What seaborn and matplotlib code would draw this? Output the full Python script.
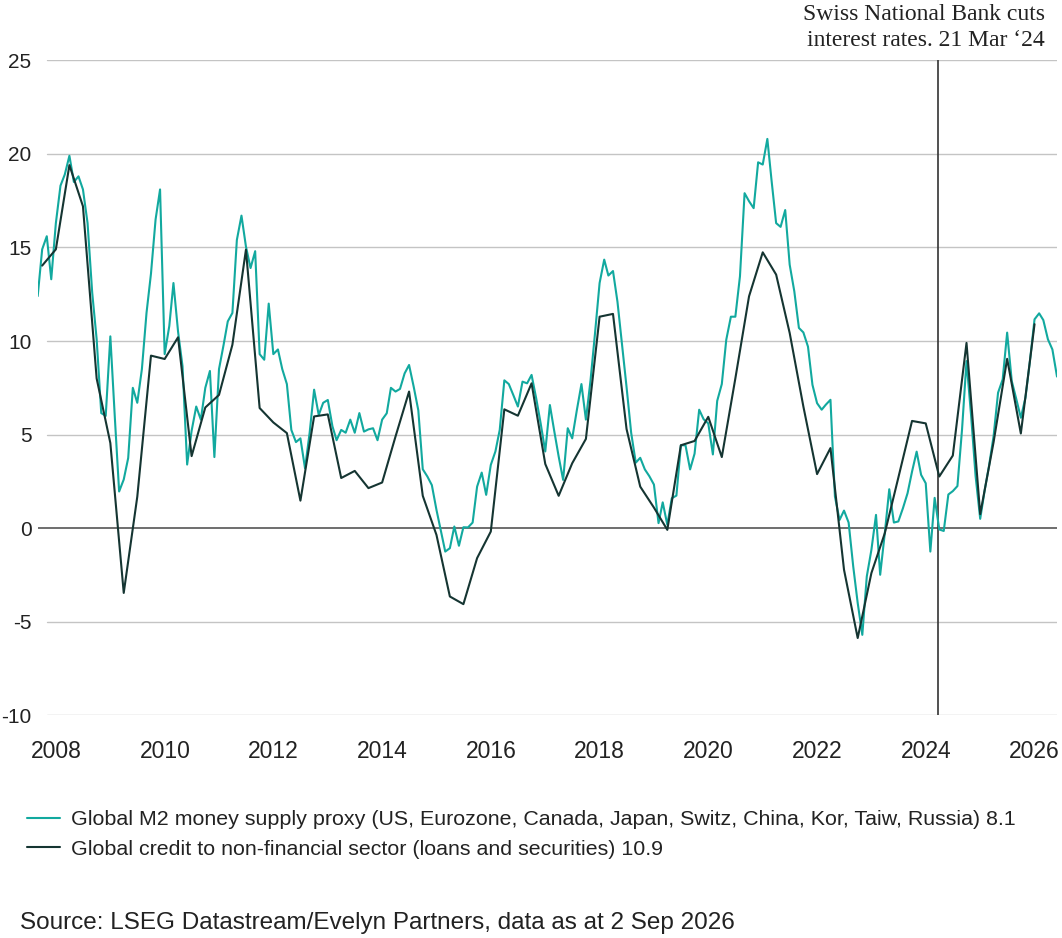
import pandas as pd
import numpy as np
import matplotlib
matplotlib.use('Agg')
from matplotlib import pyplot as plt
import seaborn as sns

sns.set_theme(style='white')
plt.rcParams['font.family'] = ['Liberation Sans', 'DejaVu Sans']
plt.rcParams['axes.unicode_minus'] = False

# 全球M2货币供应代理指标 (月度, 2007-08 起)
m2_start = '2007-08-31'
m2_values = [
    12.4, 14.9, 15.6, 13.3, 16.3, 18.3, 18.9, 19.9, 18.5, 18.8, 18.1, 16.3,
    12.6, 10.1, 6.15, 6.0, 10.25, 5.8, 1.96, 2.6, 3.75, 7.5, 6.7, 8.5,
    11.5, 13.6, 16.5, 18.1, 9.3, 10.8, 13.1, 10.5, 8.65, 3.4, 5.2, 6.5,
    5.8, 7.5, 8.4, 3.8, 8.5, 9.8, 11.05, 11.5, 15.4, 16.7, 15.05, 13.9,
    14.8, 9.3, 9.0, 12.0, 9.3, 9.55, 8.5, 7.7, 5.25, 4.6, 4.8, 3.2,
    5.1, 7.4, 6.05, 6.7, 6.85, 5.45, 4.7, 5.25, 5.1, 5.8, 5.1, 6.15,
    5.16, 5.28, 5.34, 4.7, 5.8, 6.14, 7.5, 7.3, 7.44, 8.27, 8.72, 7.56,
    6.3, 3.15, 2.76, 2.3, 0.98, -0.18, -1.25, -1.07, 0.09, -0.94, 0.05, 0.04,
    0.3, 2.22, 2.97, 1.78, 3.38, 4.1, 5.25, 7.9, 7.7, 7.1, 6.5, 7.83,
    7.74, 8.19, 6.94, 5.6, 4.1, 6.58, 5.25, 3.83, 2.58, 5.34, 4.8, 6.3,
    7.7, 5.8, 7.9, 10.4, 13.1, 14.35, 13.5, 13.74, 12.1, 9.8, 7.55, 5.1,
    3.5, 3.76, 3.14, 2.78, 2.33, 0.27, 1.38, 0.18, 1.6, 1.74, 4.43, 4.43,
    3.14, 3.98, 6.33, 5.82, 5.6, 3.94, 6.8, 7.7, 10.07, 11.3, 11.3, 13.46,
    17.9, 17.47, 17.1, 19.55, 19.43, 20.8, 18.6, 16.3, 16.1, 17.0, 14.08, 12.66,
    10.7, 10.46, 9.7, 7.66, 6.68, 6.33, 6.6, 6.86, 1.69, 0.44, 0.94, 0.3,
    -2.05, -4.0, -5.7, -2.58, -1.16, 0.71, -2.49, -0.27, 2.08, 0.3, 0.36, 1.07,
    1.87, 3.02, 4.09, 2.85, 2.4, -1.25, 1.62, -0.07, -0.15, 1.8, 1.98, 2.25,
    5.28, 8.93, 6.0, 2.78, 0.5, 2.07, 3.32, 4.92, 7.24, 7.95, 10.45, 7.86,
    6.88, 5.9, 6.97, 8.93, 11.16, 11.48, 11.12, 10.09, 9.55, 8.1,
]

# 全球非金融部门信贷 (季度, 2007Q3 起)
credit_start = '2007-09-30'
credit_values = [
    14.03, 14.9, 19.4, 17.2, 8.0, 4.55, -3.46, 1.68, 9.22, 9.04, 10.2, 3.85,
    6.45, 7.12, 9.8, 14.88, 6.42, 5.65, 5.08, 1.47, 5.97, 6.08, 2.68, 3.06,
    2.14, 2.44, 4.9, 7.3, 1.73, -0.36, -3.65, -4.06, -1.6, -0.18, 6.35, 6.01,
    7.74, 3.43, 1.73, 3.47, 4.77, 11.3, 11.45, 5.3, 2.22, 1.1, -0.09, 4.43,
    4.66, 5.95, 3.8, 8.0, 12.39, 14.74, 13.55, 10.43, 6.5, 2.89, 4.28, -2.22,
    -5.87, -2.4, -0.27, 2.7, 5.73, 5.6, 2.76, 3.88, 9.9, 0.75, 4.6, 9.05,
    5.06, 10.9,
]

m2_label = 'Global M2 money supply proxy (US, Eurozone, Canada, Japan, Switz, China, Kor, Taiw, Russia) 8.1'
credit_label = 'Global credit to non-financial sector (loans and securities) 10.9'
year_ticks = list(range(2008, 2027, 2))
y_ticks = [-10, -5, 0, 5, 10, 15, 20, 25]
event_date = '2024-03-21'
event_text = ['Swiss National Bank cuts', 'interest rates. 21 Mar \u201824']
source_text = 'Source: LSEG Datastream/Evelyn Partners, data as at 2 Sep 2026'

teal = '#12A99F'
dark = '#153532'

m2 = pd.DataFrame({'date': pd.date_range(m2_start, periods=len(m2_values), freq='ME'),
                   'value': m2_values})
credit = pd.DataFrame({'date': pd.date_range(credit_start, periods=len(credit_values), freq='QE'),
                       'value': credit_values})

fig = plt.figure(figsize=(10.62, 9.38), dpi=100)
ax = fig.add_axes([0.0355, 0.2374, 0.9598, 0.6983])

# 网格线
for y in y_ticks:
    if y == 0:
        ax.axhline(y, color='#555555', lw=1.2, zorder=1)
    else:
        ax.axhline(y, xmin=0.009, xmax=1, color='#c4c4c4', lw=1.0, zorder=1)

# 瑞士央行降息竖线
ax.axvline(pd.Timestamp(event_date), color='#333333', lw=1.2, zorder=2)

sns.lineplot(data=m2, x='date', y='value', color=teal, lw=1.5, ax=ax, label=m2_label, zorder=3)
sns.lineplot(data=credit, x='date', y='value', color=dark, lw=1.5, ax=ax, label=credit_label, zorder=4)

ax.set_xlim(m2['date'].iloc[0], m2['date'].iloc[-1])
ax.set_ylim(-10, 25)
ax.set_xticks([pd.Timestamp(f'{y}-01-01') for y in year_ticks])
ax.set_xticklabels([str(y) for y in year_ticks])
ax.set_yticks(y_ticks)
ax.set_yticklabels([str(y) for y in y_ticks])
ax.tick_params(axis='x', length=0, pad=18, labelsize=16.5, labelcolor='#222222')
ax.tick_params(axis='y', length=0, pad=4.5, labelsize=15, labelcolor='#222222')
ax.set_xlabel('')
ax.set_ylabel('')
for s in ax.spines.values():
    s.set_visible(False)
ax.grid(False)

handles, labels = ax.get_legend_handles_labels()
ax.legend(handles, labels, loc='upper left', bbox_to_anchor=(27 / 1062, 1 - 810 / 938),
          bbox_transform=fig.transFigure, frameon=False, fontsize=15.4, labelcolor='#222222',
          handlelength=1.55, handletextpad=0.5, labelspacing=0.5, borderpad=0, borderaxespad=0)

fig.text(1045 / 1062, 1 - 19.5 / 938, event_text[0], ha='right', va='baseline',
         fontsize=17, family=['Liberation Serif', 'DejaVu Serif'], color='#222222')
fig.text(1045 / 1062, 1 - 46 / 938, event_text[1], ha='right', va='baseline',
         fontsize=17, family=['Liberation Serif', 'DejaVu Serif'], color='#222222')

fig.text(20 / 1062, 1 - 923 / 938, source_text, ha='left', va='center', fontsize=17.5, color='#222222')

fig.savefig('out.png', dpi=100)
